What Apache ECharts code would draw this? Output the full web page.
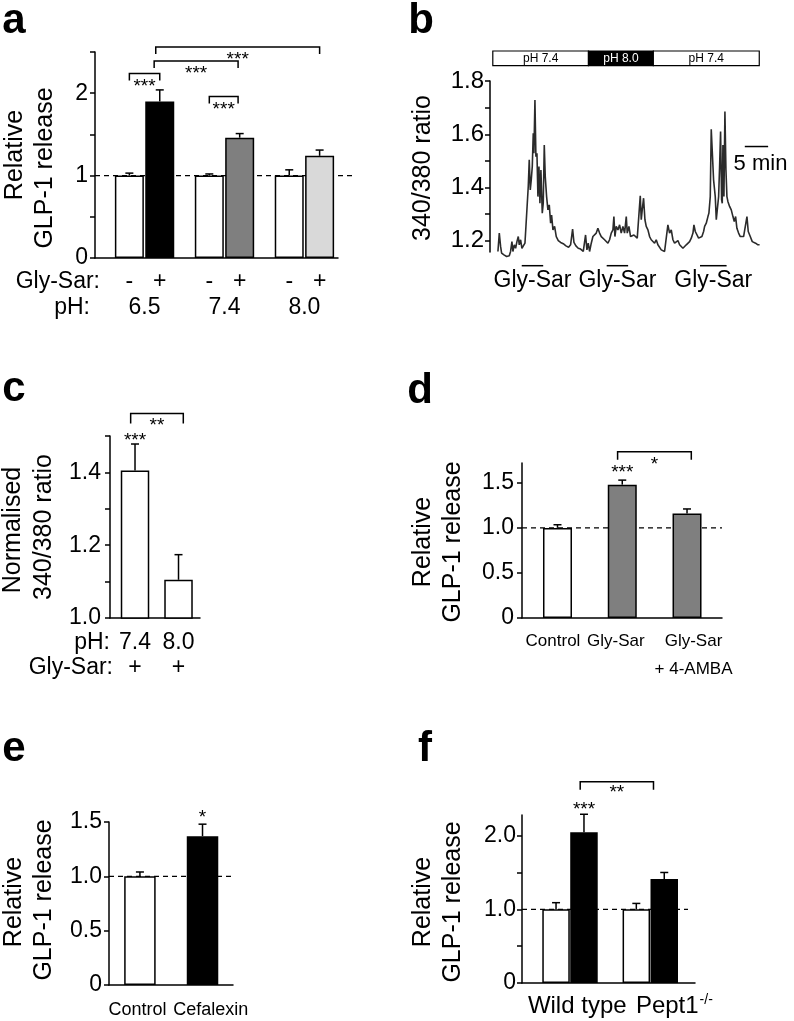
<!DOCTYPE html>
<html>
<head>
<meta charset="utf-8">
<script src="https://cdn.jsdelivr.net/npm/echarts@6/dist/echarts.min.js"></script>
<style>
  html, body { margin: 0; padding: 0; background: #fff; }
  #main { width: 794px; height: 1021px; }
</style>
</head>
<body>
<div id="main"></div>
<script>
// ---------- data ----------
// a: GLP-1 release at three pH values, without / with Gly-Sar
const aPH = ['6.5', '7.4', '8.0'];
const aSigns = ['-', '+'];
const aMinus = [1.00, 1.00, 1.00];
const aMinusErr = [0.03, 0.02, 0.07];
const aPlus = [1.90, 1.46, 1.24];
const aPlusErr = [0.14, 0.05, 0.07];
const aSig = ['***', '***', '***', '***'];
const aTicks = [0, 0.5, 1, 1.5, 2, 2.5];
const aLabels = [0, 1, 2];

// b: 340/380 trace, time in minutes
const bTrace = [
  [0.00,1.160],[0.29,1.229],[0.57,1.179],[0.79,1.154],[1.29,1.147],[1.86,1.141],[2.43,1.144],[2.71,1.160],
  [3.00,1.197],[3.21,1.160],[3.50,1.185],[3.79,1.172],[4.07,1.197],[4.36,1.216],[4.57,1.185],[4.86,1.204],
  [5.14,1.172],[5.50,1.166],[5.79,1.191],[6.00,1.254],[6.29,1.341],[6.50,1.404],[6.71,1.504],[6.93,1.391],
  [7.14,1.429],[7.36,1.479],[7.57,1.604],[7.71,1.529],[7.93,1.729],[8.14,1.516],[8.36,1.529],[8.57,1.366],
  [8.79,1.479],[9.00,1.341],[9.21,1.466],[9.50,1.304],[9.71,1.341],[9.93,1.560],[10.14,1.441],[10.43,1.366],
  [10.71,1.316],[11.00,1.335],[11.29,1.266],[11.50,1.297],[11.79,1.241],[12.14,1.254],[12.50,1.216],[12.93,1.201],
  [13.43,1.194],[14.00,1.189],[14.57,1.181],[15.14,1.176],[15.57,1.185],[16.00,1.244],[16.29,1.194],[16.71,1.181],
  [17.21,1.172],[17.71,1.169],[18.29,1.160],[18.78,1.222],[19.07,1.166],[19.35,1.191],[19.64,1.160],[20.00,1.191],
  [20.35,1.216],[20.71,1.210],[21.07,1.229],[21.42,1.247],[21.78,1.229],[22.14,1.216],[22.50,1.210],[22.85,1.204],
  [23.21,1.197],[23.57,1.191],[23.92,1.204],[24.28,1.229],[24.64,1.241],[24.85,1.291],[25.07,1.216],[25.35,1.254],
  [25.71,1.241],[26.07,1.260],[26.42,1.229],[26.78,1.254],[27.14,1.229],[27.50,1.291],[27.71,1.229],[28.07,1.254],
  [28.42,1.216],[28.78,1.210],[29.14,1.222],[29.50,1.229],[29.85,1.210],[30.21,1.216],[30.50,1.369],[30.71,1.279],
  [30.92,1.316],[31.21,1.360],[31.50,1.279],[31.78,1.254],[32.14,1.241],[32.50,1.216],[32.85,1.204],[33.21,1.197],
  [33.57,1.191],[33.92,1.204],[34.28,1.185],[34.64,1.179],[35.00,1.166],[35.35,1.160],[35.71,1.160],[36.07,1.166],
  [36.42,1.260],[36.78,1.229],[37.14,1.241],[37.50,1.204],[37.85,1.191],[38.21,1.191],[38.57,1.201],[38.93,1.185],
  [39.29,1.179],[39.64,1.172],[40.00,1.166],[40.36,1.185],[40.71,1.181],[41.07,1.197],[41.43,1.210],[41.79,1.229],
  [42.00,1.260],[42.29,1.235],[42.64,1.229],[43.00,1.210],[43.36,1.204],[43.71,1.216],[44.07,1.235],[44.29,1.254],
  [44.64,1.266],[45.00,1.291],[45.21,1.304],[45.50,1.366],[45.71,1.619],[45.93,1.614],[46.21,1.429],[46.57,1.366],
  [46.79,1.279],[47.00,1.316],[47.29,1.366],[47.50,1.479],[47.71,1.610],[47.93,1.354],[48.07,1.341],[48.21,1.560],
  [48.43,1.366],[48.64,1.685],[48.86,1.466],[49.07,1.366],[49.29,1.347],[49.64,1.329],[50.00,1.316],[50.36,1.291],
  [50.64,1.272],[50.93,1.291],[51.21,1.247],[51.57,1.229],[51.93,1.216],[52.29,1.210],[52.64,1.216],[53.00,1.210],
  [53.36,1.291],[53.64,1.235],[54.07,1.216],[54.50,1.197],[54.86,1.197],[55.21,1.191],[55.71,1.185],[56.07,1.185]
];
const bSolutions = ['pH 7.4', 'pH 8.0', 'pH 7.4'];
const bSolutionSpan = [[-1.1, 19.4], [19.4, 33.3], [33.3, 56.0]];
const bGlySarSpan = [[5.1, 9.7], [23.3, 27.9], [43.3, 49.0]];
const bScaleBar = [[52.9, 1.554, 5]];   // start (min), level, length (min)
const bTicks = [1.2, 1.3, 1.4, 1.5, 1.6, 1.7, 1.8];
const bLabels = [1.2, 1.4, 1.6, 1.8];

// c: normalised 340/380 ratio
const cPH = ['7.4', '8.0'];
const cGlySar = ['+', '+'];
const cRatio = [1.405, 1.105];
const cErr = [0.073, 0.069];
const cTicks = [1.0, 1.1, 1.2, 1.3, 1.4, 1.5];
const cLabels = [1.0, 1.2, 1.4];

// d: 4-AMBA
const dGroups = ['Control', 'Gly-Sar', 'Gly-Sar\n+ 4-AMBA'];
const dRelease = [1.00, 1.48, 1.16];
const dErr = [0.035, 0.05, 0.05];
const dTicks = [0, 0.5, 1, 1.5];

// e: cefalexin
const eGroups = ['Control', 'Cefalexin'];
const eRelease = [1.00, 1.37];
const eErr = [0.04, 0.11];
const eTicks = [0, 0.5, 1, 1.5];

// f: wild type vs Pept1-/-
const fGroups = ['Wild type', '{n|Pept1}{s|-/-}'];
const fMinus = [1.00, 1.00];
const fMinusErr = [0.09, 0.08];
const fPlus = [2.045, 1.41];
const fPlusErr = [0.245, 0.09];
const fTicks = [0, 0.5, 1, 1.5, 2];
const fLabels = [0, 1, 2];

// ---------- layout / style ----------
const FONT = '"Liberation Sans", Arial, Helvetica, sans-serif';
const BLACK = '#000';
const GREY = '#7f7f7f';
const LIGHT = '#d9d9d9';
const TITLE = 25;
const font = (s, bold) => (bold ? 'bold ' : '') + s + 'px ' + FONT;

const GRIDS = [
  {left: 95, top: 52, width: 243, height: 206},     // a
  {left: 490, top: 81, width: 280, height: 171},    // b
  {left: 110, top: 436, width: 90, height: 182},    // c
  {left: 522, top: 463, width: 200, height: 155},   // d
  {left: 109, top: 822, width: 124, height: 163},   // e
  {left: 522, top: 815, width: 173, height: 168}    // f
];
const X_RANGE = [[-0.62, 2.42], [-1.7, 58.3], [-0.575, 1.494], [-0.548, 2.54], [-0.494, 1.487], [-0.598, 1.557]];
const Y_AXES = [
  {min: 0, max: 2.5, ticks: aTicks, labels: aLabels, fmt: v => String(v), margin: 7, size: 23},
  {min: 1.158, max: 1.8, ticks: bTicks, labels: bLabels, fmt: v => v.toFixed(1), margin: 6, size: 24},
  {min: 1.0, max: 1.5, ticks: cTicks, labels: cLabels, fmt: v => v.toFixed(1), margin: 9, size: 23},
  {min: 0, max: 1.72, ticks: dTicks, labels: dTicks, fmt: v => v === 0 ? '0' : v.toFixed(1), margin: 8, size: 23},
  {min: 0, max: 1.5, ticks: eTicks, labels: eTicks, fmt: v => v === 0 ? '0' : v.toFixed(1), margin: 7, size: 23},
  {min: 0, max: 2.28, ticks: fTicks, labels: fLabels, fmt: v => v === 0 ? '0' : v.toFixed(1), margin: 6, size: 23}
];

// ---------- helpers ----------
function custom(gi, data, render, z) {
  return {type: 'custom', xAxisIndex: gi, yAxisIndex: gi, data: data, renderItem: render,
    clip: false, silent: true, z: z || 4};
}
function textEl(x, y, text, size, extra) {
  return Object.assign({type: 'text', x: x, y: y, style: {text: text, font: font(size), fill: BLACK,
    textAlign: 'center', textVerticalAlign: 'middle'}}, extra || {});
}
function bars(gi, xs, vs, colors, width) {
  return {type: 'bar', xAxisIndex: gi, yAxisIndex: gi, barWidth: width, silent: true, z: 2,
    data: xs.map((x, i) => ({value: [x, vs[i]], itemStyle: {color: colors[i]}})),
    itemStyle: {borderColor: BLACK, borderWidth: 1.5}};
}
function errorBars(gi, xs, vs, es) {
  return custom(gi, xs.map((x, i) => [x, vs[i], es[i]]), (p, api) => {
    const b = api.coord([api.value(0), api.value(1)]);
    const t = api.coord([api.value(0), api.value(1) + api.value(2)]);
    return {type: 'group', children: [
      {type: 'line', shape: {x1: b[0], y1: b[1], x2: t[0], y2: t[1]}, style: {stroke: BLACK, lineWidth: 1.5}},
      {type: 'line', shape: {x1: t[0] - 4, y1: t[1], x2: t[0] + 4, y2: t[1]}, style: {stroke: BLACK, lineWidth: 1.5}}
    ]};
  }, 3);
}
function refLine(gi, extra) {
  return custom(gi, [[1]], (p, api) => {
    const cs = p.coordSys;
    const y = api.coord([0, api.value(0)])[1];
    return {type: 'line', shape: {x1: cs.x, y1: y, x2: cs.x + cs.width + extra, y2: y},
      style: {stroke: BLACK, lineWidth: 1.3, lineDash: [5, 4]}};
  }, 1);
}
function brackets(gi, spans, labels, drop, gap, size) {
  return custom(gi, spans, (p, api) => {
    const a = api.coord([api.value(0), api.value(2)]);
    const b = api.coord([api.value(1), api.value(2)]);
    return {type: 'group', children: [
      {type: 'polyline', shape: {points: [[a[0], a[1] + drop], [a[0], a[1]], [b[0], a[1]], [b[0], a[1] + drop]]},
        style: {stroke: BLACK, lineWidth: 1.5, fill: 'none'}},
      textEl((a[0] + b[0]) / 2, a[1] + gap, labels[p.dataIndex], size)
    ]};
  });
}
function stars(gi, pts, labels, gap, size) {
  return custom(gi, pts, (p, api) => {
    const c = api.coord([api.value(0), api.value(1)]);
    return textEl(c[0], c[1] + gap, labels[p.dataIndex], size);
  });
}
function catLabels(gi, xs, labels, dy, size, lh, rich) {
  return custom(gi, xs.map(x => [x]), (p, api) => {
    const cs = p.coordSys;
    const x = api.coord([api.value(0), Y_AXES[gi].min])[0];
    const el = textEl(x, cs.y + cs.height + dy - lh / 2, labels[p.dataIndex], size);
    el.style.textVerticalAlign = 'top';
    el.style.lineHeight = lh;
    if (rich) el.style.rich = rich;
    return el;
  });
}

// bar positions
const aX = aPH.map((_, i) => i);
const aMinusX = aX.map(x => x - 0.19);
const aPlusX = aX.map(x => x + 0.19);
const cX = cPH.map((_, i) => i);
const dX = dGroups.map((_, i) => i);
const eX = eGroups.map((_, i) => i);
const fX = fGroups.map((_, i) => i);
const fMinusX = fX.map(x => x - 0.174);
const fPlusX = fX.map(x => x + 0.174);

const series = [];
// a
series.push(refLine(0, 17));
series.push(bars(0, aMinusX.concat(aPlusX), aMinus.concat(aPlus),
  ['#fff', '#fff', '#fff', BLACK, GREY, LIGHT], 29));
series.push(errorBars(0, aMinusX.concat(aPlusX), aMinus.concat(aPlus), aMinusErr.concat(aPlusErr)));
series.push(brackets(0, [[-0.19, 0.19, 2.24], [0.12, 1.17, 2.39], [0.14, 2.19, 2.56], [0.81, 1.17, 1.96]],
  aSig, 7, 13, 19));
series.push(catLabels(0, aMinusX.concat(aPlusX), aX.map(() => aSigns[0]).concat(aX.map(() => aSigns[1])), 24, 23, 26));
series.push(catLabels(0, aX, aPH, 49.5, 23, 26));

// b
series.push({type: 'line', xAxisIndex: 1, yAxisIndex: 1, data: bTrace, showSymbol: false, symbol: 'none',
  clip: false, silent: true, lineStyle: {color: '#2b2b2b', width: 1.6}, z: 2});
series.push(custom(1, bSolutionSpan, (p, api) => {
  const cs = p.coordSys;
  const a = api.coord([api.value(0), 1.8]), b = api.coord([api.value(1), 1.8]);
  const dark = bSolutions[p.dataIndex] === 'pH 8.0';
  const label = textEl((a[0] + b[0]) / 2, cs.y - 22.5, bSolutions[p.dataIndex], 12);
  label.style.fill = dark ? '#fff' : BLACK;
  return {type: 'group', children: [
    {type: 'rect', shape: {x: a[0], y: cs.y - 30, width: b[0] - a[0], height: 14.7},
      style: {fill: dark ? BLACK : '#fff', stroke: BLACK, lineWidth: 1.2}},
    label
  ]};
}));
series.push(custom(1, bGlySarSpan, (p, api) => {
  const cs = p.coordSys;
  const a = api.coord([api.value(0), 1.2]), b = api.coord([api.value(1), 1.2]);
  const y = cs.y + cs.height + 13.7;
  return {type: 'group', children: [
    {type: 'line', shape: {x1: a[0], y1: y, x2: b[0], y2: y}, style: {stroke: BLACK, lineWidth: 1.5}},
    textEl((a[0] + b[0]) / 2, y + 14.5, 'Gly-Sar', 23)
  ]};
}));
series.push(custom(1, bScaleBar, (p, api) => {
  const a = api.coord([api.value(0), api.value(1)]);
  const b = api.coord([api.value(0) + api.value(2), api.value(1)]);
  return {type: 'group', children: [
    {type: 'line', shape: {x1: a[0], y1: a[1], x2: b[0], y2: b[1]}, style: {stroke: BLACK, lineWidth: 1.5}},
    textEl((a[0] + b[0]) / 2 + 4, a[1] + 17, api.value(2) + ' min', 22)
  ]};
}));

// c
series.push(bars(2, cX, cRatio, ['#fff', '#fff'], 28.5));
series.push(errorBars(2, cX, cRatio, cErr));
series.push(brackets(2, [[-0.1, 1.11, 1.562]], ['**'], 10, 12, 19));
series.push(stars(2, [[cX[0], cRatio[0] + cErr[0]]], ['***'], -3.5, 19));
series.push(catLabels(2, cX, cPH, 25, 23, 26));
series.push(catLabels(2, cX, cGlySar, 50, 23, 26));

// d
series.push(refLine(3, 0));
series.push(bars(3, dX, dRelease, ['#fff', GREY, GREY], 29));
series.push(errorBars(3, dX, dRelease, dErr));
series.push(brackets(3, [[0.928, 2.066, 1.846]], ['*'], 8, 13, 19));
series.push(stars(3, [[dX[1], dRelease[1] + dErr[1]]], ['***'], -7, 19));
series.push(catLabels(3, dX.map((x, i) => x + [-0.07, -0.1, 0.1][i]), dGroups, 23.5, 17, 27.5));

// e
series.push(refLine(4, 2));
series.push(bars(4, eX, eRelease, ['#fff', BLACK], 31.5));
series.push(errorBars(4, eX, eRelease, eErr));
series.push(stars(4, [[eX[1], eRelease[1] + eErr[1]]], ['*'], -6, 19));
series.push(catLabels(4, eX.map((x, i) => x + [-0.04, 0.13][i]), eGroups, 25, 18, 24));

// f
series.push(refLine(5, -7));
series.push(bars(5, fMinusX.concat(fPlusX), fMinus.concat(fPlus), ['#fff', '#fff', BLACK, BLACK], 27.5));
series.push(errorBars(5, fMinusX.concat(fPlusX), fMinus.concat(fPlus), fMinusErr.concat(fPlusErr)));
series.push(brackets(5, [[0.127, 1.04, 2.731]], ['**'], 8, 11, 19));
series.push(stars(5, [[fPlusX[0], fPlus[0] + fPlusErr[0]]], ['***'], -4.5, 19));
series.push(catLabels(5, fX.map((x, i) => x + [0.09, 0.3][i]), fGroups, 23, 24, 28,
  {n: {font: font(24)}, s: {font: font(14), padding: [0, 0, 12, 1]}}));

// ---------- static text ----------
const rot = Math.PI / 2;
const graphic = [
  textEl(14, 21, 'a', 42), textEl(421, 21, 'b', 42), textEl(14, 389, 'c', 42),
  textEl(420, 391, 'd', 42), textEl(14, 749, 'e', 42), textEl(425, 749, 'f', 42),
  textEl(15, 155, 'Relative', TITLE, {rotation: rot}), textEl(45, 168, 'GLP-1 release', TITLE, {rotation: rot}),
  textEl(423, 168, '340/380 ratio', TITLE, {rotation: rot}),
  textEl(13, 530, 'Normalised', TITLE, {rotation: rot}), textEl(44, 527, '340/380 ratio', TITLE, {rotation: rot}),
  textEl(423, 542, 'Relative', TITLE, {rotation: rot}), textEl(453, 542, 'GLP-1 release', TITLE, {rotation: rot}),
  textEl(14, 902, 'Relative', TITLE, {rotation: rot}), textEl(44, 900, 'GLP-1 release', TITLE, {rotation: rot}),
  textEl(423, 902, 'Relative', TITLE, {rotation: rot}), textEl(453, 902, 'GLP-1 release', TITLE, {rotation: rot}),
  textEl(100, 282, 'Gly-Sar:', 23), textEl(90, 307.5, 'pH:', 23),
  textEl(110, 643, 'pH:', 23), textEl(113, 668, 'Gly-Sar:', 23)
];
graphic.forEach(g => {
  if (g.style.font.indexOf('42px') === 0) g.style.font = font(42, true);
  if (g.style.text.slice(-1) === ':') g.style.textAlign = 'right';
  g.silent = true;
});

const chart = echarts.init(document.getElementById('main'));
chart.setOption({
  animation: false,
  backgroundColor: '#fff',
  grid: GRIDS.map(g => Object.assign({outerBoundsMode: 'none', containLabel: false}, g)),
  xAxis: X_RANGE.map((r, i) => ({
    gridIndex: i, type: 'value', min: r[0], max: r[1], show: i !== 1,
    axisLine: {onZero: false, lineStyle: {color: BLACK, width: 1.5}},
    axisTick: {show: false}, axisLabel: {show: false}, splitLine: {show: false}
  })),
  yAxis: Y_AXES.map((y, i) => ({
    gridIndex: i, type: 'value', min: y.min, max: y.max,
    axisLine: {show: true, onZero: false, lineStyle: {color: BLACK, width: 1.5}},
    axisTick: {show: true, length: 5, customValues: y.ticks, lineStyle: {color: BLACK, width: 1.5}},
    axisLabel: {customValues: y.labels, formatter: y.fmt, margin: y.margin, color: BLACK,
      fontSize: y.size, fontFamily: FONT},
    splitLine: {show: false}
  })),
  graphic: graphic,
  series: series
});
</script>
</body>
</html>
